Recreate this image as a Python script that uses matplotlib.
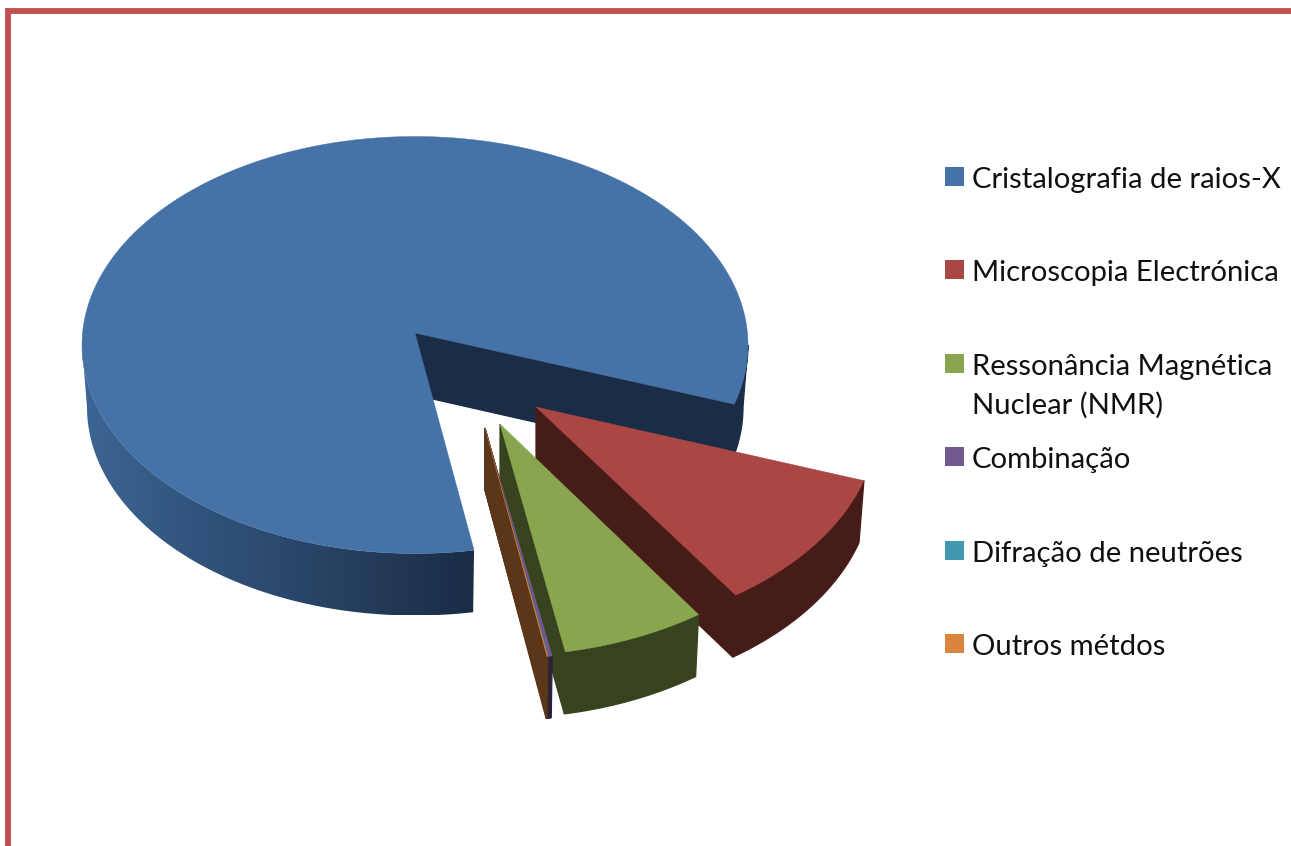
import numpy as np
import matplotlib
matplotlib.use("Agg")
import matplotlib.pyplot as plt
from matplotlib.patches import Polygon, Rectangle
from matplotlib.colors import LinearSegmentedColormap

# Share of structures per method, in percent
methods = ["Cristalografia de raios-X", "Microscopia Electrónica",
           "Ressonância Magnética\nNuclear (NMR)", "Combinação",
           "Difração de neutrões", "Outros métdos"]
shares = [82.42, 10.49, 6.85, 0.18, 0.03, 0.03]

top_colors = ["#4572A7", "#AA4643", "#89A54E", "#71588F", "#4198AF", "#DB843D"]
face_colors = ["#1A2C46", "#461C19", "#37431E", "#2B2238", "#2B2238", "#5C3618"]

# Exploded placement of each slice: apex, ellipse centre offset below apex, radii
apex_x = [415, 536, 500, 485, 485, 485]
apex_y = [333, 407, 424, 428, 428, 428]
centre_drop = [12, 12, 12, 12, 12, 12]
radius_x = [333, 342, 340, 350, 350, 350]
radius_y = [208.5, 217, 220, 220, 220, 220]
depth = 62
bottom_shrink = 0.985
first_slice_end = 16.5  # screen angle, clockwise from 3 o'clock, where the first slice stops

# Shading of the large slice's outer wall, from its left edge to its right edge
wall_ramp = LinearSegmentedColormap.from_list(
    "wall", ["#3D6595", "#325680", "#2B496C", "#233B59", "#1A2C46"])

fig = plt.figure(figsize=(12.91, 8.46), dpi=100)
ax = fig.add_axes([0, 0, 1, 1])
ax.set_xlim(0, 1291)
ax.set_ylim(846, 0)
ax.axis("off")


def rim(i, t, drop=0.0):
    """Point on the rim of slice i at angle t (degrees); drop > 0 gives the lower rim."""
    shrink = bottom_shrink if drop else 1.0
    a = np.radians(t)
    x = apex_x[i] + radius_x[i] * shrink * np.cos(a)
    y = apex_y[i] + centre_drop[i] + radius_y[i] * np.sin(a) + drop
    return np.column_stack([x, y])


def visible_ranges(t0, t1):
    """Parts of [t0, t1] where the outer wall faces the viewer (sin t > 0)."""
    out = []
    for k in range(-2, 3):
        lo, hi = max(t0, 360 * k), min(t1, 360 * k + 180)
        if hi > lo:
            out.append((lo, hi))
    return out


def draw_slice(i, t0, t1, z):
    ts = np.linspace(t0, t1, max(int((t1 - t0) * 2), 2) + 1)
    apex = np.array([apex_x[i], apex_y[i]], float)

    # outer wall, only where it faces the viewer
    for lo, hi in visible_ranges(t0, t1):
        arc = np.linspace(lo, hi, max(int((hi - lo) * 2), 2) + 1)
        wall = np.vstack([rim(i, arc), rim(i, arc[::-1], depth)])
        if i == 0 and hi - lo > 45:
            patch = Polygon(wall, closed=True, fc="none", ec="none", zorder=z)
            ax.add_patch(patch)
            img = ax.imshow(np.linspace(0, 1, 256).reshape(1, -1), cmap=wall_ramp,
                            extent=(wall[:, 0].min(), wall[:, 0].max(),
                                    wall[:, 1].max(), wall[:, 1].min()),
                            aspect="auto", zorder=z, interpolation="bilinear")
            img.set_clip_path(patch)
        else:
            ax.add_patch(Polygon(wall, closed=True, fc=face_colors[i],
                                 ec=face_colors[i], lw=0.9, zorder=z))

    # cut face at the trailing edge of the slice
    end = rim(i, np.array([t1]))[0]
    end_low = rim(i, np.array([t1]), depth)[0]
    face = [apex, end, end_low, apex + [0, depth]]
    ax.add_patch(Polygon(face, closed=True, fc=face_colors[i],
                         ec=face_colors[i], lw=0.9, zorder=z + 0.1))

    # top surface
    outline = np.vstack([apex, rim(i, ts)])
    ax.add_patch(Polygon(outline, closed=True, fc=top_colors[i],
                         ec=top_colors[i], lw=0.3, zorder=z + 0.2))


# Slice angles follow from the shares, running clockwise on screen
spans = np.array(shares) / sum(shares) * 360.0
starts = first_slice_end - spans[0] + np.concatenate([[0], np.cumsum(spans)[:-1]])
ends = starts + spans

for i in range(len(shares)):
    draw_slice(i, starts[i], ends[i], 2 + i)

ax.set_xlim(0, 1291)
ax.set_ylim(846, 0)

# Legend
legend_marker_y = [177, 270, 364, 457, 551, 644]
legend_baseline = [188, 281, 375, 468, 562, 655]
for y, base, label, col in zip(legend_marker_y, legend_baseline, methods, top_colors):
    ax.add_patch(Rectangle((945, y - 9.5), 19, 19, fc=col, ec="none", zorder=20))
    for k, line in enumerate(label.split("\n")):
        ax.text(972, base + 39 * k, line, family="Lato", fontsize=21.05,
                color="#101010", va="baseline", ha="left", zorder=20)

# Chart frame, running off the right and bottom of the page
frame = "#C0504D"
ax.plot([7.5, 7.5, 1291], [846, 11.5, 11.5], color=frame, lw=4.2,
        solid_joinstyle="miter", solid_capstyle="butt", zorder=30)

fig.savefig("out.png", dpi=100, facecolor="white")
